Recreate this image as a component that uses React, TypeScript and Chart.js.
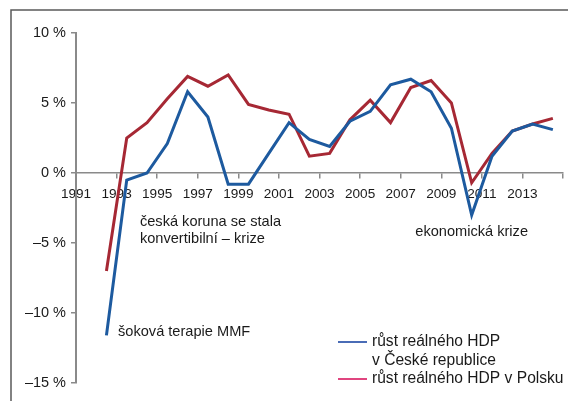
import React, { useEffect, useRef } from "react";
import { Chart, registerables } from "chart.js";

Chart.register(...registerables);

// Category years (each year is drawn in the middle of its own interval)
const years = [1992, 1993, 1994, 1995, 1996, 1997, 1998, 1999, 2000, 2001, 2002, 2003, 2004, 2005, 2006, 2007, 2008, 2009, 2010, 2011, 2012, 2013, 2014];
// Real GDP growth, %
const czGrowth = [-11.6, -0.5, 0.0, 2.1, 5.8, 4.0, -0.8, -0.8, 1.4, 3.6, 2.4, 1.9, 3.7, 4.4, 6.3, 6.7, 5.8, 3.2, -3.0, 1.2, 3.0, 3.5, 3.1];
const plGrowth = [-7.0, 2.5, 3.6, 5.3, 6.9, 6.2, 7.0, 4.9, 4.5, 4.2, 1.2, 1.4, 3.8, 5.2, 3.6, 6.1, 6.6, 5.0, -0.7, 1.4, 3.0, 3.5, 3.9];

// Axis tick definitions
const xAxisMin = 1991;
const xAxisMax = 2015;
const xTickStep = 2;
const yAxisMin = -15;
const yAxisMax = 10;
const yTickStep = 5;

const seriesLabels = ["růst reálného HDP v České republice", "růst reálného HDP v Polsku"];
const legendLines = [["růst reálného HDP", "v České republice"], ["růst reálného HDP v Polsku"]];
const annotationTexts = [
  ["česká koruna se stala", "konvertibilní – krize"],
  ["šoková terapie MMF"],
  ["ekonomická krize"],
];
const annotationAnchors = [
  { x: 1994.15, y: -3.5 },
  { x: 1993.07, y: -11.36 },
  { x: 2007.72, y: -4.21 },
];

const LINE_CZ = "#1d5a9f";
const LINE_PL = "#a62834";
const LEGEND_CZ = "#4a6cb6";
const LEGEND_PL = "#e0457f";
const AXIS = "#8a8a8a";
const TEXT = "#1a1a1a";
const FONT = "'Liberation Sans', Arial, Helvetica, sans-serif";

const overlayPlugin = {
  id: "overlay",
  beforeDraw(chart: any) {
    const ctx = chart.ctx;
    ctx.save();
    ctx.strokeStyle = "#5a5a5a";
    ctx.lineWidth = 1.5;
    ctx.beginPath();
    ctx.moveTo(11, chart.height);
    ctx.lineTo(11, 10);
    ctx.lineTo(chart.width, 10);
    ctx.stroke();
    ctx.restore();
  },
  afterDraw(chart: any) {
    const ctx = chart.ctx;
    const xs = chart.scales.x;
    const ys = chart.scales.y;
    ctx.save();
    ctx.fillStyle = TEXT;
    ctx.font = `14.6px ${FONT}`;
    ctx.textBaseline = "middle";
    ctx.textAlign = "left";
    annotationTexts.forEach((lines, i) => {
      const px = xs.getPixelForValue(annotationAnchors[i].x);
      const py = ys.getPixelForValue(annotationAnchors[i].y);
      lines.forEach((t, j) => ctx.fillText(t, px, py + j * 17));
    });

    // legend
    const ca = chart.chartArea;
    const lx0 = ca.right - 225;
    const ly0 = ca.bottom - 41;
    const colors = [LEGEND_CZ, LEGEND_PL];
    ctx.font = `15.6px ${FONT}`;
    let row = 0;
    legendLines.forEach((lines, i) => {
      const y = ly0 + row * 18.5;
      ctx.strokeStyle = colors[i];
      ctx.lineWidth = 2;
      ctx.beginPath();
      ctx.moveTo(lx0, y);
      ctx.lineTo(lx0 + 29, y);
      ctx.stroke();
      lines.forEach((t, j) => {
        ctx.fillText(t, lx0 + 34, ly0 + (row + j) * 18.5);
      });
      row += lines.length;
    });
    ctx.restore();
  },
};

export default function App() {
  const canvasRef = useRef<HTMLCanvasElement | null>(null);

  useEffect(() => {
    document.body.style.margin = "0";
    const canvas = canvasRef.current;
    if (!canvas) return;
    const chart = new Chart(canvas, {
      type: "line",
      data: {
        datasets: [
          {
            label: seriesLabels[0],
            data: years.map((yr, i) => ({ x: yr + 0.5, y: czGrowth[i] })),
            borderColor: LINE_CZ,
            borderWidth: 3,
            pointRadius: 0,
            tension: 0,
            fill: false,
          },
          {
            label: seriesLabels[1],
            data: years.map((yr, i) => ({ x: yr + 0.5, y: plGrowth[i] })),
            borderColor: LINE_PL,
            borderWidth: 3,
            pointRadius: 0,
            tension: 0,
            fill: false,
          },
        ],
      },
      options: {
        animation: false,
        responsive: false,
        maintainAspectRatio: false,
        devicePixelRatio: 1,
        layout: { padding: { left: 0, top: 33, right: 5, bottom: 18 } },
        plugins: {
          legend: { display: false },
          tooltip: { enabled: false },
        },
        scales: {
          x: {
            type: "linear",
            position: { y: 0 } as any,
            min: xAxisMin,
            max: xAxisMax,
            afterFit: (s: any) => {
              s.paddingLeft = 0;
              s.paddingRight = 0;
              s.paddingTop = 0;
              s.paddingBottom = 0;
            },
            grid: {
              drawOnChartArea: false,
              drawTicks: true,
              tickLength: 5,
              color: AXIS,
              lineWidth: 1.5,
            },
            border: { display: true, color: AXIS, width: 1.5 },
            ticks: {
              stepSize: xTickStep,
              autoSkip: false,
              maxRotation: 0,
              padding: 8,
              color: TEXT,
              font: { family: FONT, size: 13.6 },
              callback: (v: any) => (Number(v) < xAxisMax ? String(v) : ""),
            },
          },
          y: {
            type: "linear",
            min: yAxisMin,
            max: yAxisMax,
            afterFit: (s: any) => {
              s.width = 76;
              s.paddingTop = 0;
              s.paddingBottom = 0;
            },
            grid: {
              drawOnChartArea: false,
              drawTicks: true,
              tickLength: 5,
              color: AXIS,
              lineWidth: 1.5,
            },
            border: { display: true, color: AXIS, width: 2 },
            ticks: {
              stepSize: yTickStep,
              padding: 5,
              color: TEXT,
              font: { family: FONT, size: 14.5 },
              callback: (v: any) => {
                const n = Number(v);
                return (n < 0 ? "–" + Math.abs(n) : String(n)) + " %";
              },
            },
          },
        },
      },
      plugins: [overlayPlugin],
    });
    return () => chart.destroy();
  }, []);

  return (
    <div style={{ position: "absolute", left: 0, top: 0, width: 568, height: 401, background: "#fff" }}>
      <canvas ref={canvasRef} width={568} height={401} style={{ width: 568, height: 401, display: "block" }} />
    </div>
  );
}
